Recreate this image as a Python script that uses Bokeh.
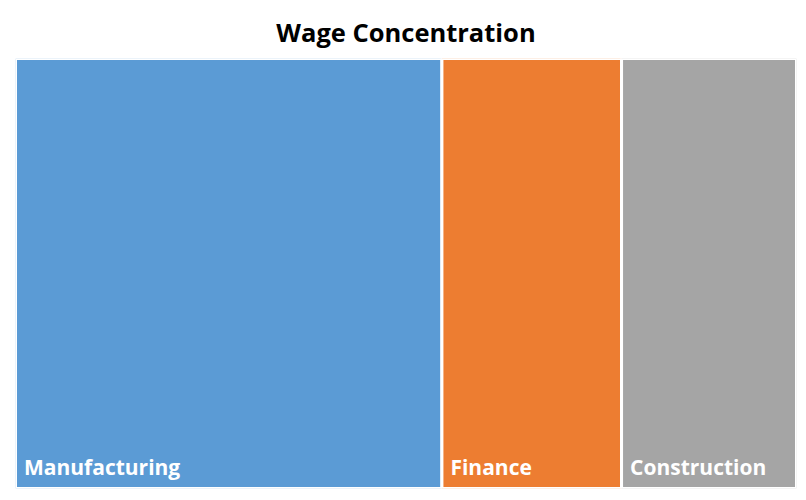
from bokeh.plotting import figure
from bokeh.models import Range1d, ColumnDataSource
from bokeh.core.properties import value
from bokeh.embed import file_html
from bokeh.resources import INLINE

categories = ["Manufacturing", "Finance", "Construction"]
wages = [54.6, 23.0, 22.4]
colors = ["#5B9BD5", "#ED7D31", "#A5A5A5"]

total = sum(wages)
lefts, rights = [], []
acc = 0.0
for w in wages:
    lefts.append(acc)
    acc += w
    rights.append(acc)

src = ColumnDataSource(dict(left=lefts, right=rights, bottom=[0] * 3, top=[1] * 3,
                            name=categories, color=colors))

p = figure(width=798, height=492, output_backend="svg", toolbar_location=None,
           x_axis_type=None, y_axis_type=None,
           x_range=Range1d(0, total), y_range=Range1d(0, 1),
           min_border_left=15, min_border_right=2, min_border_top=58, min_border_bottom=4,
           title="Wage Concentration")
p.title.align = "center"
p.title.text_font = "Open Sans"
p.title.text_font_size = "25.5px"
p.title.text_font_style = "bold"
p.title.text_color = "#000000"
p.title.standoff = 20
p.outline_line_color = None
p.grid.visible = False
p.background_fill_color = "white"
p.border_fill_color = "white"

p.quad(left="left", right="right", bottom="bottom", top="top", source=src,
       fill_color="color", line_color="white", line_width=3)
p.text(x="left", y="bottom", text="name", source=src, x_offset=8.5, y_offset=-22,
       text_baseline="alphabetic", text_align="left", text_color="white",
       text_font=value("Open Sans"), text_font_size="21px", text_font_style="bold")

open("out.html", "w").write(file_html(p, INLINE))
